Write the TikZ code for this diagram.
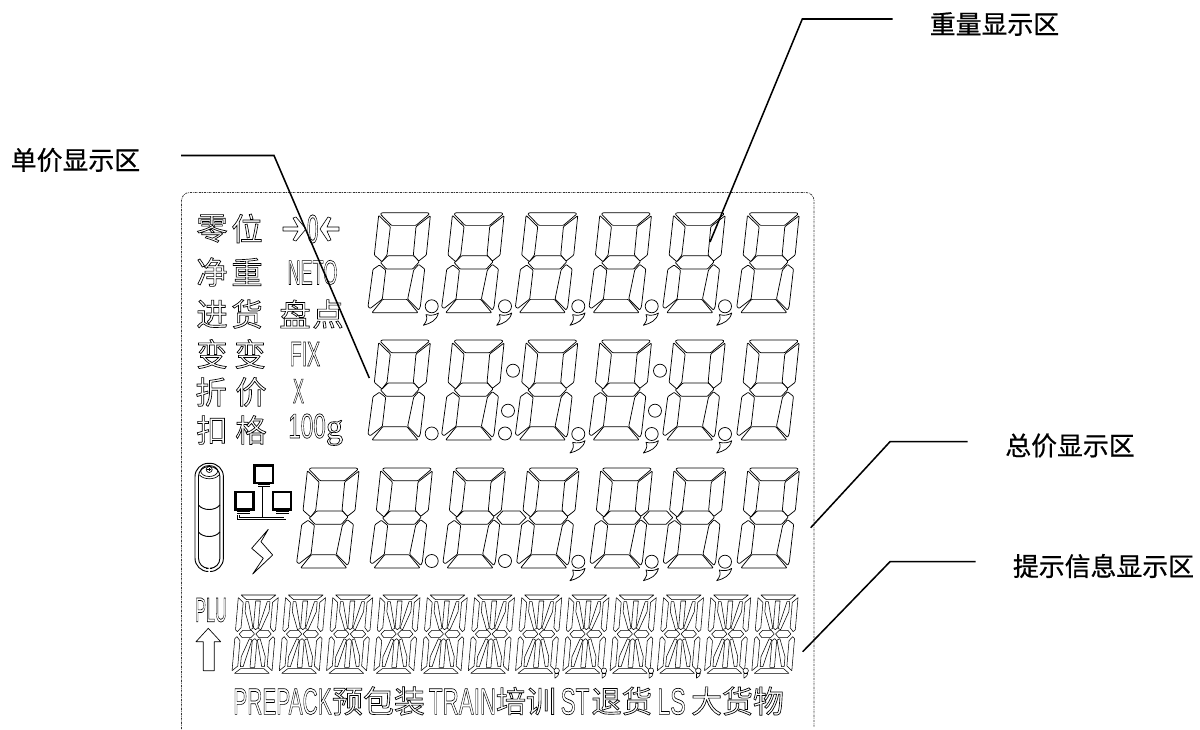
\documentclass[tikz,border=0pt]{standalone}
\usepackage{graphicx}
\usepackage{fontspec}
\setmainfont{Liberation Sans}
\newfontfamily\cjk{Noto Sans CJK SC}
\newfontfamily\cjkm[FakeBold=0.7]{Noto Sans CJK SC}
\newfontfamily\lcdg{Liberation Serif}
\newcommand{\hollowtext}[1]{\special{pdf:code q 1 Tr 0.5 w}#1\special{pdf:code Q}}
\tikzset{
  seg/.style={draw=black,line width=.55pt,line join=round,fill=white},
  alphaseg/.style={draw=black,line width=.4pt,line join=round,fill=white},
  leader/.style={draw=black,line width=1.15pt},
  lcdcn/.style={inner sep=0pt,font=\cjk\fontsize{23.5}{23.5}\selectfont},
  lcdrow/.style={inner sep=0pt,font=\cjk\fontsize{23.2}{23.2}\selectfont},
  lcdlat/.style={inner sep=0pt,font=\fontsize{26}{26}\selectfont},
  lcdbig/.style={inner sep=0pt,font=\fontsize{28}{28}\selectfont},
  callout/.style={inner sep=0pt,font=\cjkm\fontsize{19.4}{19.4}\selectfont},
  dot/.style={draw=black,line width=.55pt,fill=white},
  dbl/.style={draw=black,line width=.35pt,double=white,double distance=1.2pt},
}
\newcommand{\sevenseg}[2]{%
\begin{scope}[shift={(#1,#2)},x=.25pt,y=-.25pt,rounded corners=.6pt]
\path[seg] (37,4)--(42,0)--(180,0)--(184,4)--(144,38)--(70,38)--cycle;
\path[seg] (32,8)--(19,127)--(42,147)--(57,127)--(67,42)--cycle;
\path[seg] (187,9)--(175,127)--(152,145)--(136,127)--(144,42)--cycle;
\path[seg] (42,147)--(60,129)--(137,129)--(154,147)--(134,169)--(55,169)--(37,149)--cycle;
\path[seg] (34,157)--(53,172)--(43,259)--(7,287)--(0,282)--(15,170)--cycle;
\path[seg] (137,172)--(152,155)--(170,169)--(157,282)--(152,292)--(119,259)--cycle;
\path[seg] (12,300)--(150,300)--(117,260)--(44,260)--cycle;
\end{scope}}
\newcommand{\commadot}[2]{%
\begin{scope}[shift={(#1,#2)}]
\path[dot] (0,0) circle[radius=6.5];
\path[seg] (-5.7,8.3) .. controls (-1,9.5) and (3,9) .. (6.7,6.7) .. controls (5,14) and (-1,17) .. (-8.3,19) .. controls (-5,15) and (-4,12) .. cycle;
\end{scope}}
\newcommand{\smallcomma}[2]{%
\begin{scope}[shift={(#1,#2)}]
\path[alphaseg] (0,0) circle[radius=2.7];
\path[alphaseg] (-1.8,2.8) -- (2,2.8) .. controls (1.5,5) .. (-1.8,7.5) .. controls (-1,5.5) .. cycle;
\end{scope}}
\newcommand{\halfalpha}{%
\path[alphaseg] (8,0)--(112,0)--(95,14)--(25,14)--cycle;
\path[alphaseg] (0,8)--(16,22)--(16,98)--(6,110)--(0,104)--cycle;
\path[alphaseg] (120,8)--(104,22)--(104,98)--(114,110)--(120,104)--cycle;
\path[alphaseg] (24,20)--(32,20)--(52,100)--(44,104)--(24,50)--cycle;
\path[alphaseg] (53,18)--(67,18)--(67,98)--(60,104)--(53,98)--cycle;
\path[alphaseg] (88,20)--(96,20)--(96,50)--(76,104)--(68,100)--cycle;}
\newcommand{\alphaseg}[2]{%
\begin{scope}[shift={(#1,#2)},x=.25pt,y=-.25pt,xslant=.085]
\halfalpha
\begin{scope}[shift={(0,235)},y=.25pt]\halfalpha\end{scope}
\path[alphaseg] (12,117)--(22,106)--(48,106)--(58,117)--(48,128)--(22,128)--cycle;
\path[alphaseg] (62,117)--(72,106)--(98,106)--(108,117)--(98,128)--(72,128)--cycle;
\end{scope}}
\begin{document}
\begin{tikzpicture}[x=.75pt,y=-.75pt]
\useasboundingbox (0,0) rectangle (1200,729);
% frame
\draw[black!80,line width=.55pt,dash pattern=on 1.6pt off .7pt on .5pt off .7pt,rounded corners=6pt]
  (181.5,729) -- (181.5,192.5) -- (814,192.5) -- (814,727);
% seven-segment rows
\foreach \cx in {368,441.7,515.4,589.1,662.8,736.8}{\sevenseg{\cx}{212.7}\sevenseg{\cx}{340}}
\foreach \cx in {296.7,370,443,516.7,590,663.3,737}{\sevenseg{\cx}{468}}
% row 1 marks
\foreach \cx in {431.7,505,578.3,651.7,725}{\commadot{\cx}{306.3}}
% row 2 marks
\foreach \cx/\cy in {431.7/433.5,505/433.5,513/370.7,508/410.7,660/370.7,655/410.7}{\path[dot] (\cx,\cy) circle[radius=6.5];}
\foreach \cx in {578.3,651.7,725}{\commadot{\cx}{434}}
% row 3 marks
\foreach \cx in {431.7,505}{\path[dot] (\cx,561) circle[radius=6.5];}
\foreach \cx in {578.3,651.7,725}{\commadot{\cx}{561.7}}
\foreach \dx in {0,146.7}{\path[seg,xshift=\dx*.75pt] (496.7,517.7)--(502.7,511)--(520,511)--(526,517.7)--(519.3,524.3)--(502,524.3)--cycle;}
% alphanumeric row
\foreach \i in {0,...,11}{\alphaseg{238.5+47.25*\i}{595}}
\foreach \cx in {556.7,604,651,698.3,745.7}{\smallcomma{\cx}{670.7}}
% left labels
\node[lcdcn] (ling) at (212,228.5) {\hollowtext{零}};
\node[lcdcn] (wei) at (247,228.5) {\hollowtext{位}};
\node[lcdcn] (jing) at (212,272) {\hollowtext{净}};
\node[lcdcn] (zhong) at (247,272) {\hollowtext{重}};
\node[lcdcn] (jin) at (212,314) {\hollowtext{进}};
\node[lcdcn] (huo) at (247,314) {\hollowtext{货}};
\node[lcdcn] (pan) at (295,314) {\hollowtext{盘}};
\node[lcdcn] (dian) at (328,314) {\hollowtext{点}};
\node[lcdcn] (bian) at (212,354) {\hollowtext{变}};
\node[lcdcn] (biantwo) at (250,354) {\hollowtext{变}};
\node[lcdcn] (zhe) at (211,392) {\hollowtext{折}};
\node[lcdcn] (jia) at (251,392) {\hollowtext{价}};
\node[lcdcn] (kou) at (212,430) {\hollowtext{扣}};
\node[lcdcn] (ge) at (251,430) {\hollowtext{格}};
% latin labels
\node[lcdlat] (zero) at (312.7,229) {\scalebox{.6}[1.15]{\hollowtext{0}}};
\node[lcdlat] (neto) at (312.5,272.5) {\scalebox{.52}[1]{\hollowtext{NETO}}};
\node[lcdlat] (fix) at (305,354) {\scalebox{.56}[1]{\hollowtext{FIX}}};
\node[lcdlat] (xmark) at (298.5,391) {\scalebox{.47}[1]{\hollowtext{X}}};
\node[lcdlat,anchor=base west] (hundred) at (288,438) {\scalebox{.65}[1]{\hollowtext{100}}\hollowtext{\lcdg g}};
\node[lcdlat] (plu) at (211,610) {\scalebox{.47}[1]{\hollowtext{PLU}}};
% bottom row
\node[lcdbig] (prepack) at (282.5,701.5) {\scalebox{.56}[1]{\hollowtext{PREPACK}}};
\node[lcdrow] (yubao) at (378.5,701) {\hollowtext{预包装}};
\node[lcdbig] (train) at (462.5,701.5) {\scalebox{.6}[1]{\hollowtext{TRAIN}}};
\node[lcdrow,font=\cjk\fontsize{22.5}{22.5}\selectfont] (peixun) at (526,701) {\hollowtext{培训}};
\node[lcdbig] (st) at (575,701.5) {\scalebox{.6}[1]{\hollowtext{ST}}};
\node[lcdrow,font=\cjk\fontsize{22.8}{22.8}\selectfont] (tuihuo) at (621.7,701) {\hollowtext{退货}};
\node[lcdbig] (ls) at (671.5,701.5) {\scalebox{.62}[1]{\hollowtext{LS}}};
\node[lcdrow] (dahuo) at (737.5,701) {\hollowtext{大货物}};
% zero arrows
\path[seg,line width=.45pt] (283,227)--(298,227)--(293,218)--(296,217)--(306,229)--(296,241)--(293,240)--(298,231)--(283,231)--cycle;
\path[seg,line width=.45pt] (339,227)--(327,227)--(331,218)--(328,217)--(320,229)--(328,241)--(331,240)--(327,231)--(339,231)--cycle;
% up arrow
\path[seg,line width=.5pt] (208.3,628.3)--(220.7,641.7)--(214.3,641.7)--(214.3,670.7)--(203.3,670.7)--(203.3,641.7)--(196,641.7)--cycle;
% battery
\draw[line width=.7pt,rounded corners=10pt] (206,571.5) -- (195,571.5) -- (195,463.3) -- (223.4,463.3) -- (223.4,571.5) -- (212,571.5);
\draw[line width=.7pt,rounded corners=7.5pt] (206,568.3) -- (198.5,568.3) -- (198.5,466.5) -- (219.9,466.5) -- (219.9,568.3) -- (212,568.3);
\draw[line width=.5pt] (209.2,471) ellipse[x radius=8.5,y radius=5.5];
\draw[line width=.5pt] (209.2,469.5) circle[radius=3];
\draw[line width=.4pt] (207.3,469.5) -- (211.1,469.5) (209.2,467.6) -- (209.2,471.4);
\draw[line width=.7pt] (198.5,505) .. controls (203,511) and (215,511) .. (219.9,505);
\draw[line width=.7pt] (198.5,532) .. controls (203,538) and (215,538) .. (219.9,532);
\draw[line width=.5pt] (199.5,475) .. controls (204,480) and (215,480) .. (219,475);
% network icon
\draw[line width=1.6pt] (254.5,465.5) rectangle (273,483);
\draw[line width=1.6pt] (235.5,492) rectangle (253.5,509.5);
\draw[line width=1.6pt] (273,492) rectangle (291,509.5);
\draw[dbl] (263.7,484) -- (263.7,518.5);
\draw[dbl] (258,485.5) -- (269.5,485.5);
\draw[dbl] (238.5,515) -- (238.5,518.5) -- (285,518.5) -- (285,515);
\draw[dbl] (237,512.5) -- (250,512.5);
\draw[dbl] (276,512.5) -- (289,512.5);
% lightning
\path[seg] (268.3,529.3)--(251.7,548.3)--(263.3,558.3)--(252.7,574)--(272.7,555)--(261,541.7)--cycle;
% callouts
\node[callout] (lw) at (994.5,24) {重量显示区};
\node[callout] (lu) at (75.5,160) {单价显示区};
\node[callout] (lt) at (1070,445.5) {总价显示区};
\node[callout] (li) at (1103.5,566) {提示信息显示区};
\coordinate (wa) at (892.7,19);\coordinate (wb) at (802.3,19);\coordinate (wc) at (710,242);
\coordinate (ua) at (181,155.5);\coordinate (ub) at (274,155.5);\coordinate (uc) at (369.3,378);
\coordinate (ta) at (967.7,441.7);\coordinate (tb) at (890,441.7);\coordinate (tc) at (810.7,527.7);
\coordinate (ia) at (975.7,561.7);\coordinate (ib) at (890,561.7);\coordinate (ic) at (802.7,651.7);
\draw[leader] (wa) -- (wb) -- (wc);
\draw[leader] (ua) -- (ub) -- (uc);
\draw[leader] (ta) -- (tb) -- (tc);
\draw[leader] (ia) -- (ib) -- (ic);
\end{tikzpicture}
\end{document}
